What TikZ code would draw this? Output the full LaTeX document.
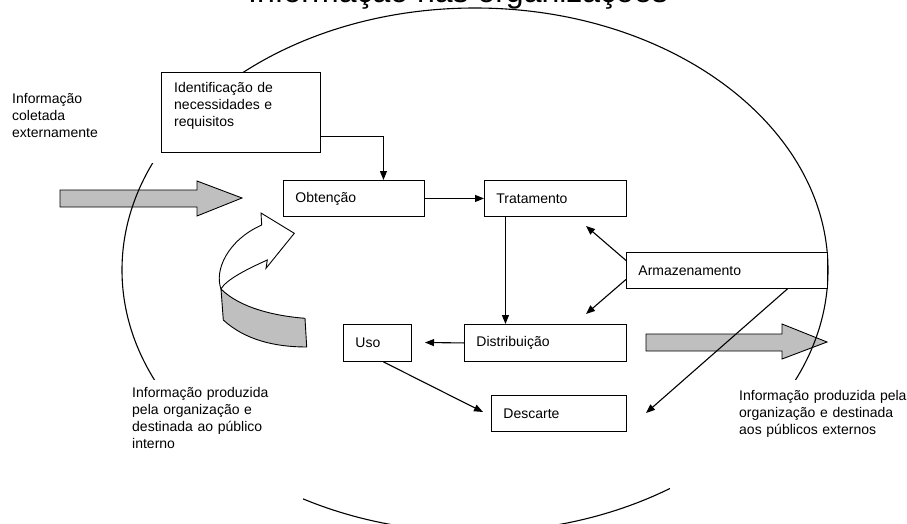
\documentclass[tikz,border=0pt]{standalone}
\usepackage{fontspec}
\setmainfont{Liberation Sans}
\usetikzlibrary{arrows.meta}
\begin{document}
\begin{tikzpicture}[x=1pt,y=-1pt,
  stepbox/.style={draw, line width=0.9pt, fill=white, anchor=north west,
    inner xsep=12pt, inner ysep=0pt, align=left,
    font=\fontsize{14}{17}\selectfont},
  conn/.style={line width=1.1pt, -{Triangle[length=9pt,width=7pt]}},
  txt/.style={font=\fontsize{14}{17}\selectfont, align=left, inner sep=0pt, anchor=base west},
  blockarrow/.style={draw, line width=0.9pt, fill=black!25, line join=miter},
  outline/.style={draw, line width=1.1pt}
]
\useasboundingbox (0,0) rectangle (907,524);

% title (cut by the page edge)
\node[font=\fontsize{32}{38}\selectfont, anchor=base, inner sep=0pt] (title) at (458,3) {Informação nas organizações};

% block arrows
\draw[blockarrow] (60,190) -- (197,190) -- (197,181) -- (242,198) -- (197,216) -- (197,207) -- (60,207) -- cycle;
\draw[blockarrow] (646,334) -- (782,334) -- (782,324) -- (827,342) -- (782,359) -- (782,351) -- (646,351) -- cycle;

% curved arrow
\draw[line width=0.9pt, fill=black!25] (221,289) -- (223.3,320) .. controls (245,340) and (275,347) .. (306.7,347)
  -- (305,318.3) .. controls (275,316) and (240,308) .. (221,289) -- cycle;
\draw[line width=0.9pt, fill=white, line join=miter] (261.7,225) -- (261,213) -- (294.3,233.3) -- (266,268.3) -- (267.3,260)
  .. controls (245,270) and (226,280) .. (221,289)
  .. controls (214,270) and (228,240) .. (261.7,225) -- cycle;

% the organisation
\draw[outline] (475,270) ellipse [x radius=353pt, y radius=262pt];

% white text areas that hide parts of the ellipse
\fill[white] (5,85) rectangle (161,163);
\fill[white] (128,380) rectangle (303,505);
\fill[white] (670,380) rectangle (907,495);

% boxes
\node[stepbox, minimum width=159pt, minimum height=80pt] (ident) at (161,72) {};
\node[txt, text width=140pt] (identtxt) at (174,93) {Identificação de\\necessidades e\\requisitos};
\node[stepbox, minimum width=141pt, minimum height=36pt, text width=117pt] (obt) at (283,180) {Obtenção};
\node[stepbox, minimum width=142pt, minimum height=36pt, text width=118pt] (trat) at (484,180) {Tratamento};
\node[stepbox, minimum width=201pt, minimum height=36pt, text width=177pt] (arm) at (626,252) {Armazenamento};
\node[stepbox, minimum width=162pt, minimum height=37pt, text width=138pt] (dist) at (464,324) {Distribuição};
\node[stepbox, minimum width=68pt, minimum height=37pt, text width=44pt] (uso) at (343,324) {Uso};
\node[stepbox, minimum width=135pt, minimum height=36pt, text width=111pt] (desc) at (491,395) {Descarte};

% connectors
\coordinate (tipA) at (586,226);
\coordinate (tipB) at (586,314);
\coordinate (tipC) at (646,413);
\coordinate (tipD) at (425,342.5);
\coordinate (tipE) at (483,412);
\draw[conn] ([yshift=-24pt]ident.east) -| ([xshift=29.5pt]obt.north);
\draw[conn] (obt.east) -- (trat.west);
\draw[conn] ([xshift=-50pt]trat.south) -- ([xshift=-50pt]trat.south |- dist.north);
\draw[conn] ([yshift=10pt]arm.west) -- (tipA);
\draw[conn] ([yshift=-9pt]arm.west) -- (tipB);
\draw[conn] ([xshift=60.5pt]arm.south) -- (tipC);
\draw[conn] (dist.west) -- (tipD);
\draw[conn] ([xshift=6pt]uso.south) -- (tipE);

% free texts
\node[txt, text width=130pt] (extin) at (12,104) {Informação\\coletada\\externamente};
\node[txt, text width=165pt] (intout) at (132,397) {Informação produzida\\pela organização e\\destinada ao público\\interno};
\node[txt, text width=175pt] (extout) at (739,400) {Informação produzida pela\\organização e destinada\\aos públicos externos};
\end{tikzpicture}
\end{document}
